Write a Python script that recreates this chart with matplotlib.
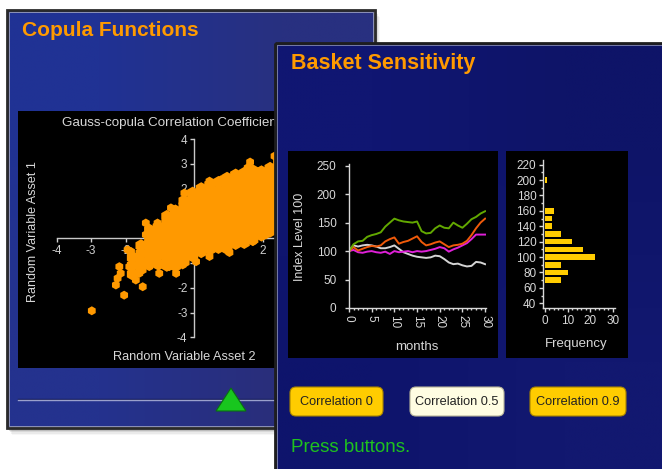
import matplotlib.pyplot as plt
import matplotlib.patches as mpatches
import numpy as np

plt.rcParams['font.family'] = ['Liberation Sans', 'DejaVu Sans']
plt.rcParams['axes.unicode_minus'] = False

# ---- data ----
# scatter: dense core, listed column by column (asset 2 value, asset 1 values)
core_x = [-1.8, -1.55, -1.3, -1.05, -0.8, -0.55, -0.3, -0.05, 0.2, 0.45,
          0.7, 0.95, 1.2, 1.45, 1.7, 1.95, 2.2, 2.45]
core_y = [
    [-1.45, -1.1, -0.78],
    [-1.25, -0.95, -0.62, -0.3],
    [-1.0, -0.72, -0.46, -0.18, 0.1, 0.32],
    [-1.05, -0.7, -0.4, -0.12, 0.18, 0.45],
    [-1.1, -0.82, -0.55, -0.26, 0.02, 0.3, 0.6, 0.88],
    [-1.12, -0.85, -0.6, -0.33, -0.05, 0.22, 0.5, 0.8, 1.1],
    [-0.95, -0.68, -0.4, -0.1, 0.18, 0.47, 0.75, 1.03, 1.3, 1.5],
    [-0.72, -0.45, -0.15, 0.12, 0.4, 0.7, 0.98, 1.25, 1.55, 1.82],
    [-0.55, -0.27, 0.02, 0.3, 0.58, 0.85, 1.15, 1.42, 1.72, 2.0],
    [-0.45, -0.15, 0.12, 0.42, 0.7, 1.0, 1.28, 1.55, 1.85, 2.15],
    [-0.38, -0.1, 0.2, 0.48, 0.78, 1.05, 1.35, 1.62, 1.92, 2.25],
    [-0.42, -0.12, 0.15, 0.45, 0.72, 1.02, 1.3, 1.6, 1.88, 2.18, 2.42],
    [-0.22, 0.08, 0.35, 0.65, 0.92, 1.2, 1.5, 1.78, 2.05, 2.32, 2.55],
    [-0.18, 0.1, 0.4, 0.68, 0.95, 1.25, 1.52, 1.8, 2.1, 2.38, 2.62],
    [-0.05, 0.25, 0.52, 0.8, 1.1, 1.38, 1.65, 1.95, 2.22, 2.5, 2.72],
    [0.12, 0.4, 0.7, 0.98, 1.25, 1.55, 1.82, 2.1, 2.4, 2.68],
    [0.28, 0.55, 0.85, 1.12, 1.4, 1.7, 1.98, 2.25, 2.55, 2.82],
    [0.42, 0.7, 1.0, 1.3, 1.6, 1.9, 2.2, 2.5, 2.8, 3.08],
]
# scatter: loose points round the edge of the cloud
edge_x = [-2.98, -2.28, -2.23, -2.14, -2.18, -2.04, -1.89, -1.84, -1.94, -1.7,
          -1.6, -1.5, -1.41, -1.41, -1.31, -1.31, -1.17, -1.07, -1.02, -0.73,
          -0.53, -0.68, -0.29, -0.19, 0.44, 0.78, 1.21, 1.55, 1.62, 1.89,
          2.04, 2.18, 2.33, 1.02, 1.7, 2.09, 0.44, 0.05, -0.34]
edge_y = [-2.93, -1.89, -1.62, -1.42, -1.15, -2.3, -1.15, -0.54, -0.47, -1.69,
          -1.42, -1.96, 0.61, 0.14, 0.27, -1.15, -0.74, 0.61, -1.42, -1.15,
          -1.42, 1.22, 1.82, 1.49, 2.3, 2.36, 2.57, 2.84, 3.07, 2.7,
          2.43, 2.57, 3.31, -0.58, -0.14, 0.14, -0.74, -0.95, -1.08]

# basket index paths
months = list(range(31))
green_path = [100, 112, 117, 118, 125, 128, 130, 133, 143, 150, 157, 154, 152, 151, 150, 152,
              135, 131, 132, 140, 145, 141, 140, 150, 145, 141, 148, 156, 160, 166, 170]
orange_path = [100, 107, 101, 104, 107, 109, 108, 110, 117, 121, 124, 113, 116, 118, 122, 126,
               116, 110, 112, 115, 117, 112, 107, 110, 111, 113, 118, 128, 140, 150, 157]
magenta_path = [100, 102, 98, 97, 99, 100, 98, 97, 99, 95, 100, 98, 99, 100, 98, 100,
                99, 100, 102, 104, 107, 105, 99, 103, 106, 110, 114, 121, 129, 129, 129]
grey_path = [100, 110, 108, 110, 111, 110, 108, 105, 105, 107, 110, 104, 98, 95, 92, 90,
             89, 88, 89, 92, 91, 86, 80, 77, 78, 75, 73, 74, 81, 80, 77]

# histogram of final index levels
level_bins = [70, 80, 90, 100, 110, 120, 130, 140, 150, 160, 200]
level_counts = [7, 10, 7, 22, 17, 12, 7, 3, 3, 4, 1]

button_labels = ['Correlation 0', 'Correlation 0.5', 'Correlation 0.9']

# ---- figure in pixel units ----
W, H = 662, 469
fig = plt.figure(figsize=(W / 100, H / 100), dpi=100, facecolor='white')


def box(x0, y0, x1, y1):
    return [x0 / W, 1 - y1 / H, (x1 - x0) / W, (y1 - y0) / H]


def canvas():
    ax = fig.add_axes([0, 0, 1, 1])
    ax.patch.set_alpha(0)
    ax.axis('off')
    return ax


def fix(ax):
    ax.set_xlim(0, W)
    ax.set_ylim(H, 0)


def gradient(ax, x0, y0, x1, y1, colors):
    img = np.array(colors, dtype=float).reshape(2, 2, 3) / 255
    ax.imshow(img, extent=(x0, x1, y1, y0), interpolation='bilinear',
              aspect='auto', zorder=1)


# left panel: copula functions
left = canvas()
for i, a in enumerate([0.12, 0.08, 0.05, 0.03]):
    left.add_patch(mpatches.Rectangle((9 + i, 13 + i * 1.5), 368, 418,
                                      fc='black', alpha=a, lw=0, zorder=0))
gradient(left, 8, 11, 374, 427,
         [[32, 50, 148], [40, 48, 128], [36, 50, 142], [42, 46, 122]])
left.add_patch(mpatches.Rectangle((7, 10), 368, 418, fc='none', ec='#2a2a2a', lw=2, zorder=3))
left.add_patch(mpatches.Rectangle((9, 12), 364, 414, fc='none', ec='#8d92b8', lw=0.7, zorder=3))
left.text(22, 30, 'Copula Functions', color='#ff9a00', fontsize=15,
          fontweight='bold', va='center', ha='left', zorder=4)
left.add_patch(mpatches.Rectangle((18, 111), 330, 257, fc='black', lw=0, zorder=2))
left.text(62, 123, 'Gauss-copula Correlation Coefficient 0.9', color='#d8d8d8',
          fontsize=9.6, va='center', ha='left', zorder=3)
left.text(33, 232, 'Random Variable Asset 1', color='#d8d8d8', fontsize=9,
          rotation=90, va='center', ha='center', zorder=3)
left.text(113, 357, 'Random Variable Asset 2', color='#d8d8d8', fontsize=9.2,
          va='center', ha='left', zorder=3)
left.plot([18, 372], [398.8, 398.8], color='#141a58', lw=1.0, zorder=3)
left.plot([18, 372], [400, 400], color='#9aa0cc', lw=1.0, zorder=3)
left.add_patch(mpatches.Polygon([(216, 411), (246, 411), (231, 388)], closed=True,
                                fc='#18c61e', ec='#0b6f12', lw=0.8, zorder=4))
fix(left)

# scatter plot
sc = fig.add_axes(box(56.7, 139, 332, 337.3))
sc.patch.set_alpha(0)
sc.set_xlim(-4, 4)
sc.set_ylim(-4, 4)
for side in ['top', 'right']:
    sc.spines[side].set_visible(False)
for side in ['left', 'bottom']:
    sc.spines[side].set_position(('data', 0))
    sc.spines[side].set_color('#c8c8c8')
    sc.spines[side].set_linewidth(1)
sc.set_xticks([-4, -3, -2, -1, 1, 2, 3, 4])
sc.set_yticks([-4, -3, -2, -1, 1, 2, 3, 4])
sc.tick_params(colors='#d0d0d0', labelsize=8.5, length=3, width=1, direction='out', pad=2)
core_px, core_py = [], []
for cx, ys in zip(core_x, core_y):
    core_px += [cx] * len(ys)
    core_py += ys
sc.scatter(core_px, core_py, s=85, marker='h', c='#ff9900', edgecolors='none', zorder=5)
sc.scatter(edge_x, edge_y, s=42, marker='h', c='#ff9900', edgecolors='none', zorder=5)

# right panel: basket sensitivity
right = canvas()
gradient(right, 276, 44, 662, 469,
         [[16, 22, 114], [14, 20, 104], [14, 20, 108], [18, 24, 112]])
right.add_patch(mpatches.Rectangle((275, 43), 400, 440, fc='none', ec='#1e1e1e', lw=2, zorder=3))
right.add_patch(mpatches.Rectangle((277, 45), 400, 440, fc='none', ec='#767ba6', lw=0.7, zorder=3))
right.text(291, 63, 'Basket Sensitivity', color='#ff9a00', fontsize=15.5,
           fontweight='bold', va='center', ha='left', zorder=4)
right.add_patch(mpatches.Rectangle((287.5, 151), 210.5, 207, fc='black', lw=0, zorder=2))
right.add_patch(mpatches.Rectangle((506, 151), 122, 207, fc='black', lw=0, zorder=2))
right.text(300, 237, 'Index Level 100', color='#d8d8d8', fontsize=9,
           rotation=90, va='center', ha='center', zorder=3)
right.text(417, 347, 'months', color='#d8d8d8', fontsize=9.5, va='center', ha='center', zorder=3)
right.text(576, 344, 'Frequency', color='#d8d8d8', fontsize=9.5, va='center', ha='center', zorder=3)

button_x = [(290, 383), (410, 504), (530, 626)]
button_fc = ['#ffcc00', '#fffde2', '#ffcc00']
button_ec = ['#a88400', '#b8b59a', '#a88400']
for (bx0, bx1), label, fc, ec in zip(button_x, button_labels, button_fc, button_ec):
    right.add_patch(mpatches.FancyBboxPatch((bx0, 387), bx1 - bx0, 29,
                                            boxstyle='round,pad=0,rounding_size=6',
                                            fc=fc, ec=ec, lw=0.8, zorder=3))
    right.text((bx0 + bx1) / 2, 402, label, color='#222222', fontsize=9.2,
               va='center', ha='center', zorder=4)
right.text(291, 447, 'Press buttons.', color='#1ec21e', fontsize=13.5,
           va='center', ha='left', zorder=4)
fix(right)

# line chart of index paths
ln = fig.add_axes(box(349, 164, 486, 308))
ln.patch.set_alpha(0)
ln.plot(months, grey_path, color='#d4d4d4', lw=1.4)
ln.plot(months, magenta_path, color='#e020d8', lw=1.4)
ln.plot(months, orange_path, color='#f05a0a', lw=1.4)
ln.plot(months, green_path, color='#62a800', lw=1.4)
ln.set_xlim(0, 30.2)
ln.set_ylim(0, 253)
ln.set_xticks(range(0, 31, 5))
ln.set_xticks(range(0, 31), minor=True)
ln.set_yticks(range(0, 251, 50))
ln.tick_params(axis='x', labelrotation=-90)

# histogram of final levels
hs = fig.add_axes(box(543.3, 160, 615, 308.3))
hs.patch.set_alpha(0)
hs.barh(level_bins, level_counts, height=7.3, color='#ffcc00', lw=0)
hs.set_xlim(-0.7, 31)
hs.set_ylim(33.5, 226)
hs.set_xticks(range(0, 31, 10))
hs.set_xticks(range(0, 31, 2), minor=True)
hs.set_yticks(range(40, 221, 20))
hs.set_yticks(range(40, 221, 10), minor=True)

for ax in (ln, hs):
    for side in ['top', 'right']:
        ax.spines[side].set_visible(False)
    for side in ['left', 'bottom']:
        ax.spines[side].set_color('#d8d8d8')
        ax.spines[side].set_linewidth(1)
    ax.tick_params(which='major', colors='#d8d8d8', labelsize=8.5, length=3, width=1, pad=2)
    ax.tick_params(which='minor', colors='#d8d8d8', length=1.5, width=1)
ln.tick_params(axis='y', pad=6)

fig.savefig('out.png', dpi=100, facecolor='white')
